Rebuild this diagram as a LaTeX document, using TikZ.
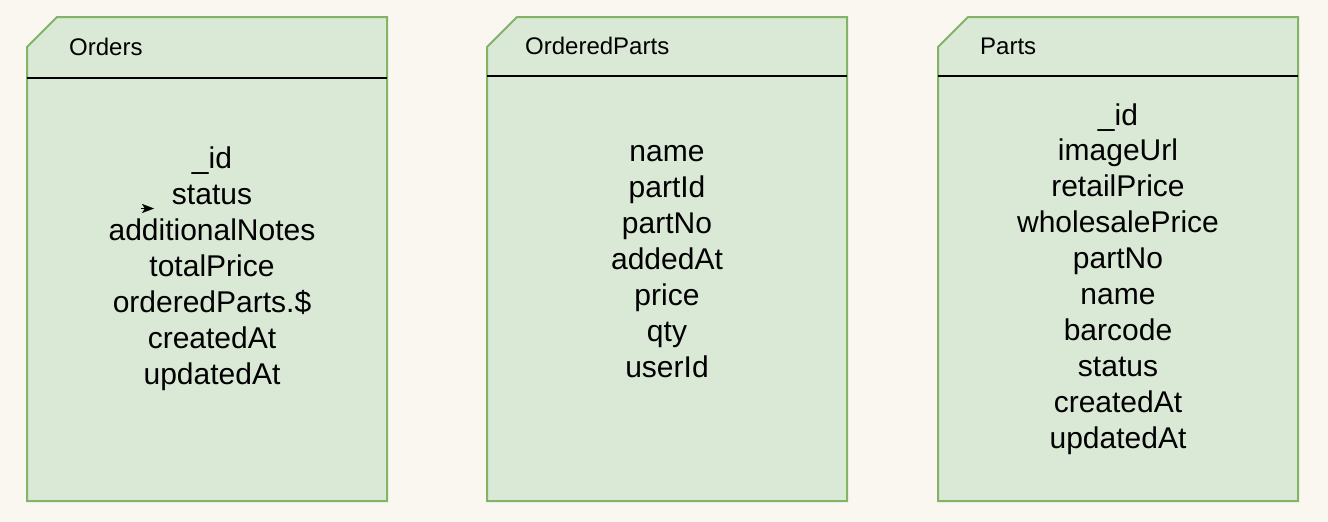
\documentclass[tikz,border=0pt]{standalone}
\usepackage{fontspec}
\setmainfont{Liberation Sans}
\usetikzlibrary{arrows.meta}
\definecolor{bgcream}{HTML}{F9F7F0}
\definecolor{cardfill}{HTML}{DAE8D6}
\definecolor{cardline}{HTML}{82B366}
\begin{document}
\begin{tikzpicture}[>=latex,x=1pt,y=-1pt,
    card/.style={draw=cardline,fill=cardfill,line width=2pt},
    title/.style={anchor=base west,inner sep=0pt,font=\fontsize{24}{28}\selectfont},
    field/.style={anchor=base,inner sep=0pt,font=\fontsize{30}{36}\selectfont}]
    \fill[bgcream] (0,0) rectangle (1328,522);
    \useasboundingbox (0,0) rectangle (1328,522);
\foreach \l/\r/\h in {27/387/78,487/847/75.5,938/1298/75.5}
{
    \draw[card] (\l,47)--(\l+30,17)--(\r,17)--(\r,501)--(\l,501)--cycle;
    \draw[line width=2pt] (\l,\h)--(\r,\h);
}
    \node[title] (orders) at (69,55) {Orders};
    \node[title] (orderedparts) at (525,54) {OrderedParts};
    \node[title] (parts) at (980,54) {Parts};
\foreach \f [count=\i] in {\_id,status,additionalNotes,totalPrice,orderedParts.\$,createdAt,updatedAt}
    \node[field] (ord\i) at (212,{168+36*(\i-1)}) {\f};
\foreach \f [count=\i] in {name,partId,partNo,addedAt,price,qty,userId}
    \node[field] (op\i) at (667,{161+36*(\i-1)}) {\f};
\foreach \f [count=\i] in {\_id,imageUrl,retailPrice,wholesalePrice,partNo,name,barcode,status,createdAt,updatedAt}
    \node[field] (prt\i) at (1118,{125+35.9*(\i-1)}) {\f};
    \coordinate (stub) at (141,208.5);
    \coordinate (stubtip) at (154,208.5);
    \draw[-{Stealth[length=12pt,width=9pt,inset=3pt]}] (stub)--(stubtip);
\end{tikzpicture}
\end{document}
